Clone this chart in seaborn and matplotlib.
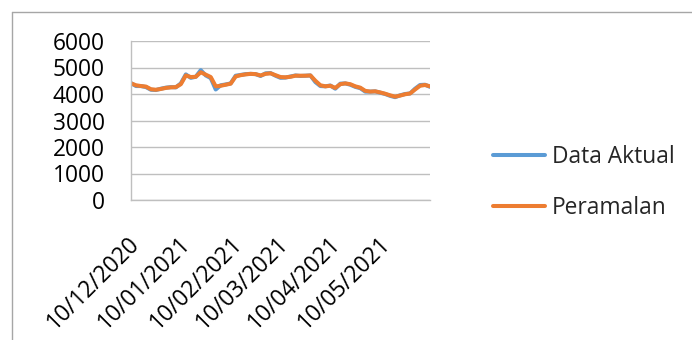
import pandas as pd
import matplotlib
matplotlib.use("Agg")
import matplotlib.pyplot as plt
import matplotlib.dates as mdates
from matplotlib.lines import Line2D
from matplotlib.transforms import ScaledTranslation
import seaborn as sns

# Daily closing price vs. forecast, sampled every 3 days
start_date = "2020-12-10"
step = "3D"
data_aktual = [
    4410, 4300, 4300, 4260, 4160, 4150, 4200, 4240, 4260, 4250,
    4400, 4740, 4610, 4650, 4900, 4700, 4600, 4170, 4330, 4360,
    4400, 4690, 4720, 4750, 4760, 4750, 4680, 4780, 4790, 4690,
    4610, 4620, 4660, 4700, 4680, 4690, 4700, 4450, 4300, 4290,
    4320, 4200, 4390, 4400, 4350, 4270, 4220, 4090, 4090, 4100,
    4050, 4000, 3930, 3880, 3950, 4000, 4020, 4200, 4340, 4350,
    4270,
]
peramalan = [
    4400, 4330, 4300, 4280, 4180, 4160, 4190, 4230, 4250, 4260,
    4370, 4700, 4640, 4650, 4820, 4730, 4640, 4290, 4310, 4350,
    4390, 4660, 4710, 4740, 4760, 4750, 4700, 4760, 4780, 4710,
    4640, 4630, 4650, 4690, 4690, 4690, 4700, 4500, 4330, 4290,
    4310, 4230, 4370, 4400, 4370, 4290, 4240, 4120, 4090, 4100,
    4060, 4010, 3950, 3900, 3940, 3990, 4020, 4170, 4310, 4340,
    4290,
]
series_names = ["Data Aktual", "Peramalan"]
series_colors = ["#5B9BD5", "#ED7D31"]
y_ticks = [0, 1000, 2000, 3000, 4000, 5000, 6000]
x_tick_dates = ["2020-12-10", "2021-01-10", "2021-02-10",
                "2021-03-10", "2021-04-10", "2021-05-10"]

dates = pd.date_range(start_date, periods=len(data_aktual), freq=step)
df = pd.concat([
    pd.DataFrame({"Tanggal": dates, "Nilai": data_aktual, "Seri": series_names[0]}),
    pd.DataFrame({"Tanggal": dates, "Nilai": peramalan, "Seri": series_names[1]}),
], ignore_index=True)

sns.set_style("white")
plt.rcParams["font.family"] = ["Open Sans", "DejaVu Sans"]
FS = 16.4
LW = 2.9
grid_gray = "#BFBFBF"

fig = plt.figure(figsize=(6.92, 3.40), dpi=100)
ax = fig.add_axes([131 / 692, 1 - 200 / 340, 299 / 692, 159 / 340])

sns.lineplot(data=df, x="Tanggal", y="Nilai", hue="Seri",
             palette=dict(zip(series_names, series_colors)),
             linewidth=LW, legend=False, ax=ax)

ax.set_xlim(dates[0], dates[-1])
ax.set_ylim(0, 6000)
ax.set_yticks(y_ticks)
ax.set_yticklabels([str(v) for v in y_ticks], fontsize=FS)
ax.set_xticks(pd.to_datetime(x_tick_dates))
ax.xaxis.set_major_formatter(mdates.DateFormatter("%d/%m/%Y"))
ax.set_xlabel("")
ax.set_ylabel("")

ax.grid(axis="y", color=grid_gray, linewidth=1.0)
ax.set_axisbelow(True)
for side in ("top", "right"):
    ax.spines[side].set_visible(False)
for side in ("left", "bottom"):
    ax.spines[side].set_color(grid_gray)
    ax.spines[side].set_linewidth(1.0)
ax.tick_params(axis="y", length=6, width=1.0, color=grid_gray, pad=13, labelcolor="black")
ax.tick_params(axis="x", length=6, width=1.0, color=grid_gray, pad=23, labelcolor="black")

shift = ScaledTranslation(5 / 100, 0, fig.dpi_scale_trans)
for lbl in ax.get_xticklabels():
    lbl.set_rotation(45)
    lbl.set_ha("right")
    lbl.set_va("center")
    lbl.set_rotation_mode("anchor")
    lbl.set_fontsize(FS)
    lbl.set_transform(lbl.get_transform() + shift)

handles = [Line2D([0], [0], color=c, linewidth=LW) for c in series_colors]
fig.legend(handles, series_names, loc="center left",
           bbox_to_anchor=(493 / 692, 1 - 182.5 / 340),
           frameon=False, fontsize=FS, handlelength=2.3, handletextpad=0.3,
           labelspacing=1.2, borderpad=0, borderaxespad=0)

# Chart-area border (top and left edges)
border = "#A6A6A6"
fig.add_artist(Line2D([12 / 692, 1.0], [1 - 12 / 340, 1 - 12 / 340],
                      transform=fig.transFigure, color=border, linewidth=1.0))
fig.add_artist(Line2D([12 / 692, 12 / 692], [0.0, 1 - 12 / 340],
                      transform=fig.transFigure, color=border, linewidth=1.0))

fig.savefig("out.png", dpi=100, facecolor="white")
